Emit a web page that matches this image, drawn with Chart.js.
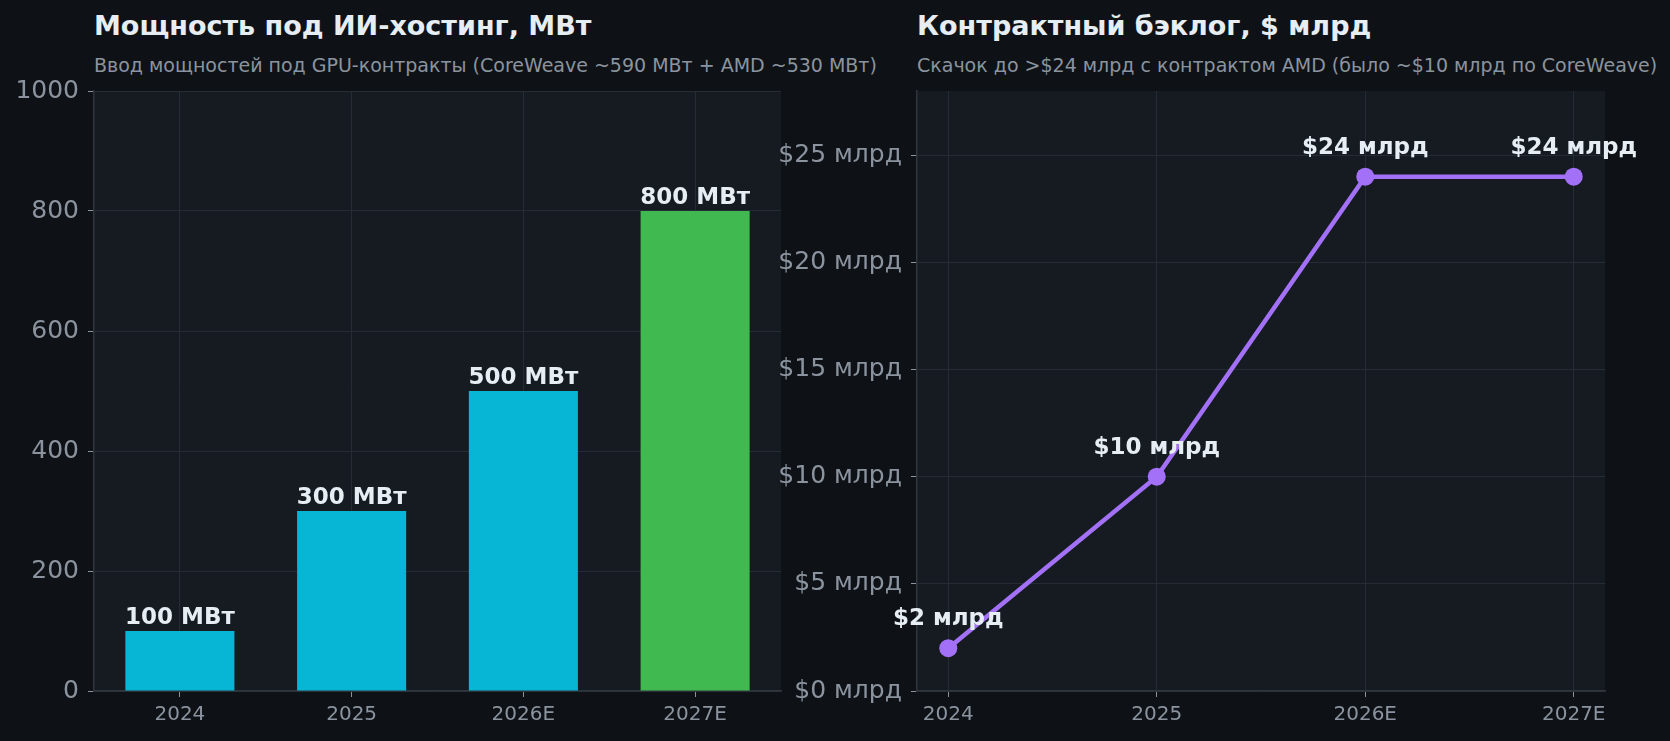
<!DOCTYPE html>
<html>
<head>
<meta charset="utf-8">
<script src="https://cdn.jsdelivr.net/npm/chart.js@4/dist/chart.umd.min.js"></script>
<style>
  html, body { margin: 0; padding: 0; background: #0e1217; }
  body { width: 1670px; height: 741px; position: relative; overflow: hidden; font-family: "DejaVu Sans", sans-serif; }
  canvas { position: absolute; top: 0; }
  .title { position: absolute; font-weight: bold; font-size: 27px; line-height: 1; color: #e6edf3; white-space: nowrap; }
  .sub { position: absolute; font-size: 19px; line-height: 1; color: #8b949e; white-space: nowrap; }
</style>
</head>
<body>
<div class="title" style="left:94px; top:12px;">Мощность под ИИ-хостинг, МВт</div>
<div class="sub" style="left:94px; top:56px;">Ввод мощностей под GPU-контракты (CoreWeave ~590 МВт + AMD ~530 МВт)</div>
<div class="title" style="left:917px; top:12px;">Контрактный бэклог, $ млрд</div>
<div class="sub" style="left:917px; top:56px;">Скачок до &gt;$24 млрд с контрактом AMD (было ~$10 млрд по CoreWeave)</div>
<canvas id="capacity" width="800" height="741" style="left:0; width:800px; height:741px;"></canvas>
<canvas id="backlog" width="900" height="741" style="left:770px; width:900px; height:741px;"></canvas>
<script>
// --- data ---
const years = ['2024', '2025', '2026E', '2027E'];
const capacityMW = [100, 300, 500, 800];
const backlogBn = [2, 10, 24, 24];
const capacityTicks = [0, 200, 400, 600, 800, 1000];
const backlogTicks = [0, 5, 10, 15, 20, 25];

// --- styles ---
const FONT = '"DejaVu Sans", sans-serif';
const gridColor = '#262c35';
const tickColor = '#8b949e';
const axisColor = '#30363d';
const labelColor = '#e6edf3';
const barColors = ['#06b6d4', '#06b6d4', '#06b6d4', '#3fb950'];
const lineColor = '#a371f7';

Chart.defaults.font.family = FONT;
Chart.defaults.animation = false;

const plotBg = {
  id: 'plotBg',
  beforeDraw(chart) {
    const { ctx, chartArea: a } = chart;
    ctx.save();
    ctx.fillStyle = '#161b22';
    ctx.fillRect(a.left, a.top, a.right - a.left, a.bottom - a.top);
    ctx.restore();
  }
};

// value labels above bars / points
const valueLabels = {
  id: 'valueLabels',
  afterDatasetsDraw(chart, args, opts) {
    const { ctx } = chart;
    const meta = chart.getDatasetMeta(0);
    const values = chart.data.datasets[0].data;
    ctx.save();
    ctx.font = `bold ${opts.size}px ${FONT}`;
    ctx.fillStyle = labelColor;
    ctx.textAlign = 'center';
    ctx.textBaseline = 'alphabetic';
    meta.data.forEach((el, i) => {
      const v = typeof values[i] === 'object' ? values[i].y : values[i];
      ctx.fillText(opts.format(v), el.x, el.y - opts.offset);
    });
    ctx.restore();
  }
};

const yAxisBase = (width) => ({
  afterFit(scale) { scale.width = width; },
  border: { color: axisColor, width: 1.5 },
  grid: { color: gridColor, tickColor: tickColor, tickLength: 6, lineWidth: 1 },
  ticks: { color: tickColor, font: { size: 25 }, padding: 9 }
});
const xAxisBase = () => ({
  afterFit(scale) { scale.height = 50; },
  border: { color: axisColor, width: 1.5 },
  grid: { color: gridColor, tickColor: tickColor, tickLength: 6, lineWidth: 1, offset: false },
  ticks: { color: tickColor, font: { size: 20 }, padding: 6, maxRotation: 0 }
});

new Chart(document.getElementById('capacity'), {
  type: 'bar',
  data: {
    labels: years,
    datasets: [{
      data: capacityMW,
      backgroundColor: barColors,
      barPercentage: 0.635,
      categoryPercentage: 1
    }]
  },
  options: {
    responsive: false,
    devicePixelRatio: 1,
    layout: { padding: { top: 91, right: 19, bottom: 0, left: 0 } },
    plugins: {
      legend: { display: false },
      tooltip: { enabled: false },
      valueLabels: { size: 23, offset: 7, format: (v) => `${v} МВт` }
    },
    scales: {
      x: xAxisBase(),
      y: {
        ...yAxisBase(94),
        min: 0, max: 1000,
        afterBuildTicks(scale) { scale.ticks = capacityTicks.map((v) => ({ value: v })); },
        ticks: { ...yAxisBase(94).ticks, callback: (v) => String(v) }
      }
    }
  },
  plugins: [plotBg, valueLabels]
});

new Chart(document.getElementById('backlog'), {
  type: 'line',
  data: {
    datasets: [{
      data: backlogBn.map((v, i) => ({ x: i, y: v })),
      borderColor: lineColor,
      backgroundColor: lineColor,
      borderWidth: 4.5,
      pointRadius: 9,
      pointBorderWidth: 0,
      pointBackgroundColor: lineColor,
      tension: 0
    }]
  },
  options: {
    responsive: false,
    devicePixelRatio: 1,
    layout: { padding: { top: 91, right: 65, bottom: 0, left: 0 } },
    plugins: {
      legend: { display: false },
      tooltip: { enabled: false },
      valueLabels: { size: 23, offset: 23, format: (v) => `$${v} млрд` }
    },
    scales: {
      x: {
        ...xAxisBase(),
        type: 'linear',
        min: -0.15, max: 3.15,
        afterBuildTicks(scale) { scale.ticks = years.map((_, i) => ({ value: i })); },
        ticks: { ...xAxisBase().ticks, callback: (v) => years[v] }
      },
      y: {
        ...yAxisBase(147),
        min: 0, max: 28,
        afterBuildTicks(scale) { scale.ticks = backlogTicks.map((v) => ({ value: v })); },
        ticks: { ...yAxisBase(147).ticks, callback: (v) => `$${v} млрд` }
      }
    }
  },
  plugins: [plotBg, valueLabels]
});
</script>
</body>
</html>
